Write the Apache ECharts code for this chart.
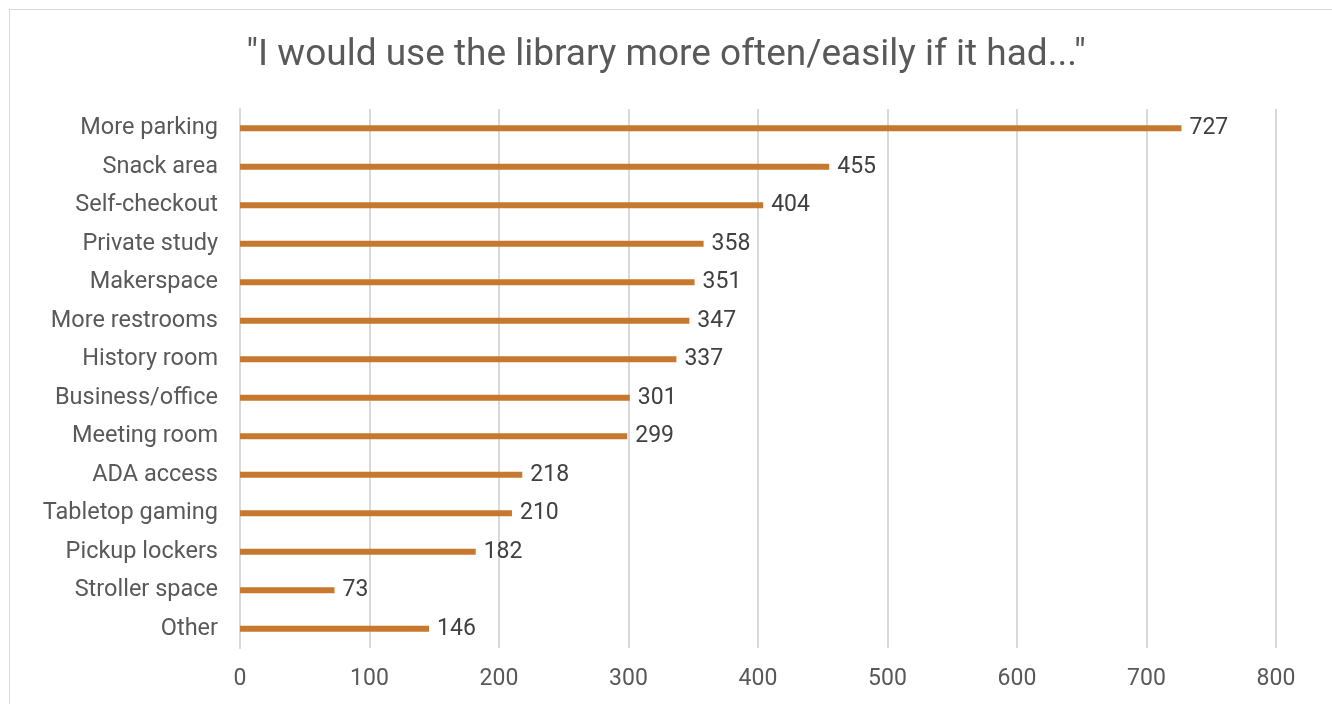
<!DOCTYPE html>
<html><head><meta charset="utf-8">
<script src="https://cdn.jsdelivr.net/npm/echarts@6/dist/echarts.min.js"></script>
<style>html,body{margin:0;padding:0;background:#fff}#c{width:1332px;height:704px}
#frame{position:absolute;left:9px;top:9px;width:1330px;height:710px;border:1px solid #d9d9d9;box-sizing:border-box;pointer-events:none}</style>
</head><body><div id="c"></div><div id="frame"></div>
<script>
const titleText = '"I would use the library more often/easily if it had..."';
const categories = ['More parking','Snack area','Self-checkout','Private study','Makerspace','More restrooms','History room','Business/office','Meeting room','ADA access','Tabletop gaming','Pickup lockers','Stroller space','Other'];
const values = [727,455,404,358,351,347,337,301,299,218,210,182,73,146];
const xTicks = [0,100,200,300,400,500,600,700,800];

const font = 'Roboto';
const chart = echarts.init(document.getElementById('c'));
chart.setOption({
  animation:false,
  title:{text:titleText,left:'center',top:32,textStyle:{fontFamily:font,fontSize:37,fontWeight:'normal',color:'#595959'}},
  grid:{left:240,right:56,top:109,bottom:56,containLabel:false},
  xAxis:{type:'value',min:xTicks[0],max:xTicks[xTicks.length-1],interval:100,
    axisLine:{show:false},axisTick:{show:false},
    axisLabel:{fontFamily:font,fontSize:23,color:'#595959',margin:20},
    splitLine:{lineStyle:{color:'#d9d9d9',width:2}}},
  yAxis:{type:'category',data:categories,inverse:true,
    axisLine:{show:true,lineStyle:{color:'#d9d9d9',width:2}},axisTick:{show:false},
    axisLabel:{fontFamily:font,fontSize:23.5,color:'#595959',margin:22,padding:[4,0,0,0]}},
  series:[{type:'bar',data:values,barWidth:6,itemStyle:{color:'#C5782E'},
    label:{show:true,position:'right',distance:8,fontFamily:font,fontSize:23,color:'#404040',padding:[4,0,0,0]}}]
});
</script></body></html>
